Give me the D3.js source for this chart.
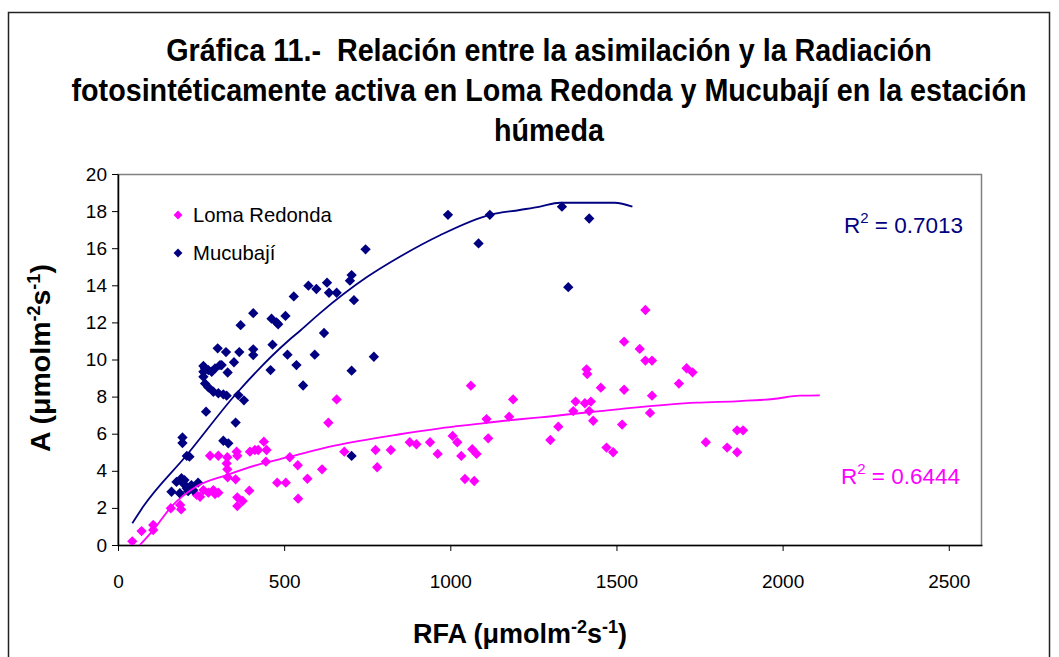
<!DOCTYPE html>
<html lang="es">
<head>
<meta charset="UTF-8">
<title>Gráfica 11</title>
<script src="https://cdn.jsdelivr.net/npm/d3@7/dist/d3.min.js"></script>
<style>
  body { margin: 0; background: #fff; }
  svg { display: block; font-family: "Liberation Sans", Arial, sans-serif; }
</style>
</head>
<body>
<svg id="chart" width="1059" height="657"></svg>
<script>
// valores: [RFA, A]
var lomaRedonda = [
  [43,0.2],[71,0.75],[106,1.08],[106,0.81],[159,1.98],[187,2.16],[190,1.92],[237,2.7],[247,2.6],
  [257,2.96],[272,2.82],[287,2.96],[292,2.75],[302,2.82],[277,4.81],[302,4.81],[329,4.73],[327,4.4],
  [329,4.08],[357,5.03],[359,4.81],[397,5.03],[412,5.12],[422,5.12],[439,5.57],[447,5.12],[445,4.49],
  [330,3.65],[354,3.54],[359,2.57],[375,2.37],[359,2.1],[395,2.93],[479,3.36],[505,3.36],[517,4.73],
  [541,4.3],[542,2.5],[570,3.57],[614,4.08],[633,6.59],[658,7.85],[681,5.03],[775,5.12],[780,4.19],
  [821,5.12],[878,5.54],[898,5.43],[939,5.54],[962,4.91],[1007,5.88],[1021,5.54],[1033,4.8],[1044,3.56],
  [1072,3.45],[1062,8.59],[1066,5.16],[1079,4.91],[1114,5.75],[1109,6.79],[1177,6.92],[1189,7.85],
  [1523,10.96],[1570,10.57],[1587,9.94],[1607,9.94],[1410,9.47],[1412,9.22],[1711,9.53],[1729,9.31],
  [1453,8.48],[1523,8.37],[1688,8.7],[1607,8.05],[1377,7.73],[1405,7.64],[1423,7.73],[1370,7.22],
  [1418,7.22],[1601,7.12],[1430,6.7],[1325,6.38],[1301,5.66],[1517,6.49],[1470,5.25],[1490,5.0],
  [1769,5.54],[1833,5.25],[1863,5.0],[1863,6.18],[1881,6.18],[1587,12.67]
];
var mucubaji = [
  [993,17.8],[1119,17.8],[1336,18.24],[1418,17.6],[1085,16.26],[1355,13.9],[745,15.94],[703,14.55],
  [698,14.25],[710,13.2],[620,11.43],[573,13.98],[597,13.8],[529,13.4],[629,14.14],[635,13.6],[658,13.6],
  [407,12.5],[369,11.85],[462,12.2],[477,12.0],[482,11.9],[504,12.35],[300,10.6],[325,10.4],[365,10.4],
  [407,10.55],[407,10.24],[465,10.8],[510,10.26],[592,10.26],[770,10.15],[703,9.4],[349,9.85],[312,9.7],
  [330,9.3],[537,9.7],[459,9.43],[557,8.6],[257,9.65],[262,9.52],[272,9.43],[257,9.34],[282,9.34],
  [292,9.52],[307,9.7],[257,9.07],[262,8.7],[272,8.5],[287,8.26],[302,8.18],[317,8.12],[327,8.05],
  [362,8.08],[379,7.8],[265,7.19],[354,6.6],[194,5.8],[194,5.5],[207,4.8],[215,4.76],[317,5.62],
  [332,5.48],[703,4.8],[161,2.87],[176,3.4],[191,3.6],[196,3.33],[207,3.06],[221,3.23],[226,2.96],
  [241,3.36],[186,2.79],[200,3.5],[211,2.9]
];
// líneas de tendencia tal como se ven en la gráfica
var lomaTrend = [
  [66,0],[106,0.8],[161,2.07],[236,3.15],[327,3.77],[417,4.31],[517,4.76],[648,5.34],[848,5.97],
  [969,6.29],[1069,6.5],[1209,6.78],[1270,6.88],[1510,7.33],[1741,7.67],[1871,7.76],[1971,7.87],
  [2052,8.05],[2112,8.07]
];
var mucuTrend = [
  [43,1.17],[76,2.07],[207,4.85],[357,8.18],[515,11.05],[548,11.55],[608,12.5],[748,14.43],[848,15.54],
  [969,16.7],[1119,17.8],[1209,18.06],[1270,18.24],[1330,18.45],[1495,18.45],[1548,18.24]
];
var xTicks = [0, 500, 1000, 1500, 2000, 2500];
var yTicks = [0, 2, 4, 6, 8, 10, 12, 14, 16, 18, 20];
var seriesNames = ["Loma Redonda", "Mucubají"];
var seriesColors = ["#ff00ff", "#000080"];
var r2Labels = ["0.6444", "0.7013"];
var titleLines = [
  "Gráfica 11.-  Relación entre la asimilación y la Radiación",
  "fotosintéticamente activa en Loma Redonda y Mucubají en la estación",
  "húmeda"
];

(function(){
var svg = d3.select("#chart");
var pLeft = 118, pRight = 982, pTop = 174, pBottom = 545;

var x = d3.scaleLinear().domain([0, 2600]).range([pLeft, pRight]);
var y = d3.scaleLinear().domain([0, 20]).range([pBottom, pTop]);

svg.append("rect").attr("width", 1059).attr("height", 657).attr("fill", "#fff");
// marco exterior
svg.append("rect")
  .attr("x", 8.5).attr("y", 12.5).attr("width", 1041).attr("height", 700)
  .attr("fill", "none").attr("stroke", "#222").attr("stroke-width", 1.5);

// titulo
svg.append("g").selectAll("text")
  .data(titleLines).enter().append("text")
  .attr("transform", function(d, i){ return "translate(549," + (61 + i * 40) + ") scale(1,1.08)"; })
  .attr("text-anchor", "middle")
  .attr("font-size", 28.7).attr("font-weight", "bold")
  .style("white-space", "pre")
  .text(function(d){ return d; });

// area de trazado
svg.append("rect")
  .attr("x", pLeft).attr("y", pTop + 0.5).attr("width", pRight - pLeft - 0.5).attr("height", pBottom - pTop)
  .attr("fill", "none").attr("stroke", "#808080").attr("stroke-width", 1.5);

svg.append("defs").append("clipPath").attr("id", "clip")
  .append("rect").attr("x", pLeft).attr("y", pTop).attr("width", pRight - pLeft).attr("height", pBottom - pTop);

var xAxis = svg.append("g")
  .attr("transform", "translate(0," + pBottom + ")")
  .call(d3.axisBottom(x).tickValues(xTicks).tickFormat(d3.format("d"))
    .tickSize(6).tickSizeOuter(0).tickPadding(24));
var yAxis = svg.append("g")
  .attr("transform", "translate(" + pLeft + ",0)")
  .call(d3.axisLeft(y).tickValues(yTicks).tickSize(6).tickSizeOuter(0).tickPadding(5));

[xAxis, yAxis].forEach(function(a){
  a.select(".domain").attr("stroke", "#000").attr("stroke-width", 1.5);
  a.selectAll(".tick line").attr("stroke", "#000");
  a.selectAll(".tick text").attr("font-size", 19).attr("fill", "#000")
    .attr("font-family", "'Liberation Sans', Arial, sans-serif");
});

var plot = svg.append("g").attr("clip-path", "url(#clip)");
var line = d3.line()
  .x(function(d){ return x(d[0]); })
  .y(function(d){ return y(d[1]); })
  .curve(d3.curveMonotoneX);

var diamond = d3.symbol().type(d3.symbolDiamond2).size(68);

[lomaRedonda, mucubaji].forEach(function(pts, i){
  plot.append("g").selectAll("path")
    .data(pts).enter().append("path")
    .attr("d", diamond)
    .attr("transform", function(d){ return "translate(" + x(d[0]) + "," + y(d[1]) + ")"; })
    .attr("fill", seriesColors[i]);
});

[lomaTrend, mucuTrend].forEach(function(pts, i){
  plot.append("path").datum(pts)
    .attr("d", line)
    .attr("fill", "none")
    .attr("stroke", seriesColors[i])
    .attr("stroke-width", 1.8);
});

// leyenda
var legend = svg.append("g");
seriesNames.forEach(function(name, i){
  var ly = 215 + i * 38;
  legend.append("path").attr("d", d3.symbol().type(d3.symbolDiamond2).size(50))
    .attr("transform", "translate(178," + ly + ")")
    .attr("fill", seriesColors[i]);
  legend.append("text").attr("x", 193).attr("y", ly + 7)
    .attr("font-size", 20.3).attr("fill", "#000").text(name);
});

// R2
var r2Pos = [[960, 484], [963, 233]];
r2Labels.forEach(function(v, i){
  var t = svg.append("text").attr("x", r2Pos[i][0]).attr("y", r2Pos[i][1])
    .attr("text-anchor", "end").attr("font-size", 22.5).attr("fill", seriesColors[i]);
  t.append("tspan").text("R");
  t.append("tspan").attr("dy", -10).attr("font-size", 15).text("2");
  t.append("tspan").attr("dy", 10).text(" = " + v);
});

// titulos de ejes
function unitLabel(t, prefix) {
  t.append("tspan").text(prefix + " (μmolm");
  t.append("tspan").attr("dy", -10).attr("font-size", 18).text("-2");
  t.append("tspan").attr("dy", 10).text("s");
  t.append("tspan").attr("dy", -10).attr("font-size", 18).text("-1");
  t.append("tspan").attr("dy", 10).text(")");
}
unitLabel(svg.append("text").attr("x", 520).attr("y", 643).attr("text-anchor", "middle")
  .attr("font-size", 27).attr("font-weight", "bold"), "RFA");
unitLabel(svg.append("text").attr("transform", "translate(50,358) rotate(-90)").attr("text-anchor", "middle")
  .attr("font-size", 28.5).attr("font-weight", "bold"), "A");
})();
</script>
</body>
</html>
